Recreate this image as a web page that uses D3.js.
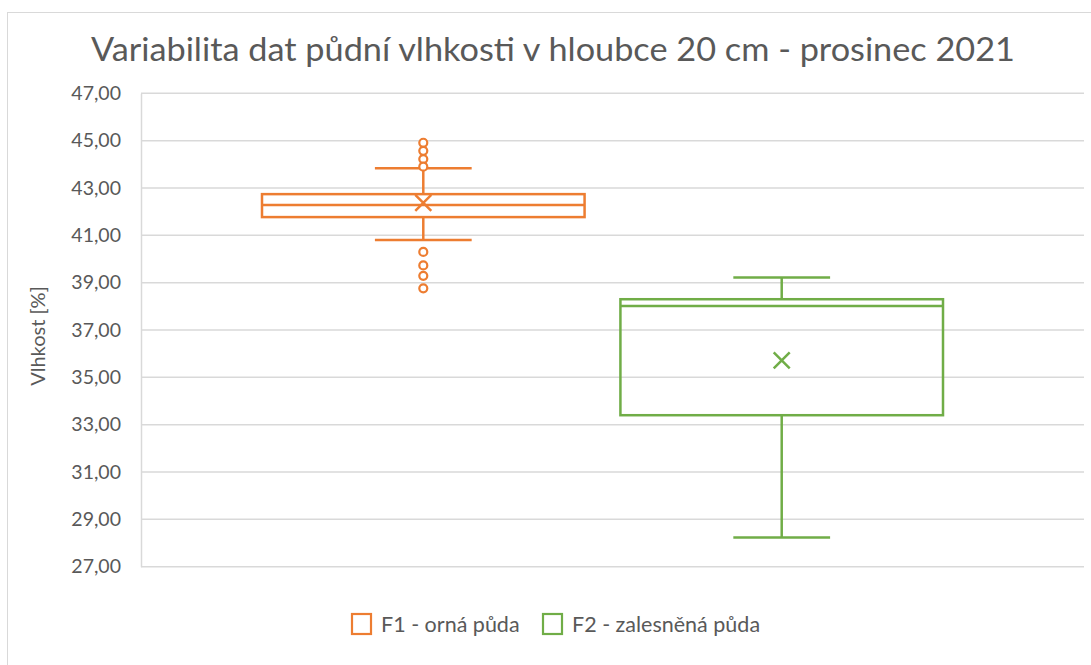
<!DOCTYPE html>
<html>
<head>
<meta charset="utf-8">
<script src="https://cdn.jsdelivr.net/npm/d3@7"></script>
<style>
  body { margin: 0; background: #fff; }
  svg text { font-family: Lato, "Open Sans", sans-serif; fill: #595959; }
</style>
</head>
<body>
<svg id="chart" width="1091" height="665"></svg>
<script>
// values
var seriesNames = ['F1 - orná půda', 'F2 - zalesněná půda'];
var seriesColors = ['#ED7D31', '#70AD47'];
var whiskerLow = [40.80, 28.23];
var q1Values = [41.77, 33.40];
var medianValues = [42.28, 38.01];
var q3Values = [42.74, 38.30];
var whiskerHigh = [43.83, 39.22];
var meanValues = [42.37, 35.72];
var outlierValues = [[44.91, 44.57, 44.22, 43.90, 40.30, 39.73, 39.29, 38.76], []];
var yTicks = [27, 29, 31, 33, 35, 37, 39, 41, 43, 45, 47];

var svg = d3.select('#chart');
var plotL = 141, plotR = 1084, plotT = 93.3, plotB = 566.7;

// chart frame
svg.append('rect')
    .attr('x', 7.5).attr('y', 12.5)
    .attr('width', 1100).attr('height', 700)
    .attr('fill', 'none').attr('stroke', '#D9D9D9').attr('stroke-width', 1);

var yScale = d3.scaleLinear().domain([27, 47]).range([plotB, plotT]);
var xScale = d3.scaleBand()
    .domain(seriesNames)
    .range([plotL + 121, plotR - 141])
    .paddingInner(0.1)
    .paddingOuter(0);

// gridlines
svg.append('g').selectAll('line')
    .data(yTicks).enter()
    .append('line')
    .attr('x1', plotL).attr('x2', plotR)
    .attr('y1', function (d) { return yScale(d) }).attr('y2', function (d) { return yScale(d) })
    .attr('stroke', '#D9D9D9').attr('stroke-width', 1.5);

// y axis
var yAxis = svg.append('g')
    .attr('transform', 'translate(' + plotL + ',0)')
    .call(d3.axisLeft(yScale).tickValues(yTicks).tickSize(0).tickPadding(20)
        .tickFormat(function (d) { return d3.format('.2f')(d).replace('.', ',') }));
yAxis.select('.domain').attr('stroke', '#D9D9D9').attr('stroke-width', 1.5);
yAxis.selectAll('text').style('font-size', '19.5px').attr('fill', '#595959')
    .style('font-family', 'Lato, sans-serif');

// axis title
svg.append('text')
    .attr('transform', 'translate(45,336) rotate(-90)')
    .attr('text-anchor', 'middle')
    .style('font-size', '20px')
    .text('Vlhkost [%]');

// title
svg.append('text')
    .attr('x', 553).attr('y', 61)
    .attr('text-anchor', 'middle')
    .attr('textLength', 924).attr('lengthAdjust', 'spacingAndGlyphs')
    .style('font-size', '32px')
    .text('Variabilita dat půdní vlhkosti v hloubce 20 cm - prosinec 2021');

// boxes
var boxes = svg.append('g').selectAll('g.box')
    .data(seriesNames).enter()
    .append('g').attr('class', 'box');

boxes.each(function (name, i) {
    var g = d3.select(this);
    var color = seriesColors[i];
    var x0 = xScale(name), w = xScale.bandwidth(), cx = x0 + w / 2;
    var capHalf = w * 0.15;

    // whiskers
    g.append('line').attr('x1', cx).attr('x2', cx)
        .attr('y1', yScale(whiskerHigh[i])).attr('y2', yScale(q3Values[i]))
        .attr('stroke', color).attr('stroke-width', 2.5);
    g.append('line').attr('x1', cx).attr('x2', cx)
        .attr('y1', yScale(q1Values[i])).attr('y2', yScale(whiskerLow[i]))
        .attr('stroke', color).attr('stroke-width', 2.5);
    [whiskerHigh[i], whiskerLow[i]].forEach(function (v) {
        g.append('line').attr('x1', cx - capHalf).attr('x2', cx + capHalf)
            .attr('y1', yScale(v)).attr('y2', yScale(v))
            .attr('stroke', color).attr('stroke-width', 2.5);
    });

    // box
    g.append('rect')
        .attr('x', x0).attr('width', w)
        .attr('y', yScale(q3Values[i]))
        .attr('height', yScale(q1Values[i]) - yScale(q3Values[i]))
        .attr('fill', 'none').attr('stroke', color).attr('stroke-width', 2.5);
    g.append('line').attr('x1', x0).attr('x2', x0 + w)
        .attr('y1', yScale(medianValues[i])).attr('y2', yScale(medianValues[i]))
        .attr('stroke', color).attr('stroke-width', 2.5);

    // mean marker
    var my = yScale(meanValues[i]), s = 8;
    g.append('path')
        .attr('d', 'M' + (cx - s) + ',' + (my - s) + 'L' + (cx + s) + ',' + (my + s) +
                   'M' + (cx - s) + ',' + (my + s) + 'L' + (cx + s) + ',' + (my - s))
        .attr('stroke', color).attr('stroke-width', 2.5).attr('fill', 'none');

    // outliers
    g.selectAll('circle').data(outlierValues[i]).enter()
        .append('circle')
        .attr('cx', cx).attr('cy', function (d) { return yScale(d) })
        .attr('r', 4)
        .attr('fill', '#fff').attr('stroke', color).attr('stroke-width', 2.2);
});

// legend
var legendX = [351, 542];
var legend = svg.append('g').selectAll('g')
    .data(seriesNames).enter()
    .append('g')
    .attr('transform', function (d, i) { return 'translate(' + legendX[i] + ',614)' });
legend.append('rect')
    .attr('x', 1).attr('y', 0).attr('width', 19).attr('height', 20)
    .attr('fill', 'none')
    .attr('stroke', function (d, i) { return seriesColors[i] })
    .attr('stroke-width', 2.2);
legend.append('text')
    .attr('x', 30).attr('y', 18)
    .style('font-size', '21.5px')
    .text(function (d) { return d });
</script>
</body>
</html>
